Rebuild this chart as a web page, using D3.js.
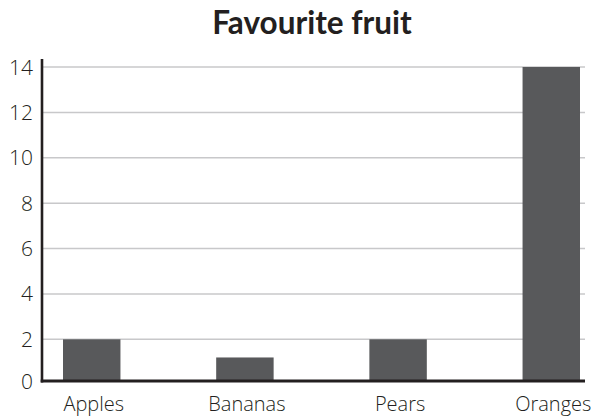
<!DOCTYPE html>
<html>
<head>
<meta charset="utf-8">
<script src="https://cdn.jsdelivr.net/npm/d3@7"></script>
<style>
  html, body { margin: 0; padding: 0; background: #fff; }
  svg { display: block; }
</style>
</head>
<body>
<svg id="chart" width="596" height="418"></svg>
<script>
const categories = ["Apples", "Bananas", "Pears", "Oranges"];
const values = [2, 1.2, 2, 14];
const yTicks = [0, 2, 4, 6, 8, 10, 12, 14];
const title = "Favourite fruit";

const W = 596, H = 418;
const svg = d3.select("#chart");
const axisX = 42, plotRight = 585, plotBottom = 381, axisTop = 59;
const labelFont = "'Open Sans', Lato, sans-serif";

const x = d3.scaleBand()
  .domain(categories)
  .range([63, 580])
  .paddingInner(0.625)
  .paddingOuter(0);

const y = d3.scaleLinear()
  .domain([0, 14])
  .range([384.7, 67]);

// title
svg.append("text")
  .attr("x", 312).attr("y", 34)
  .attr("text-anchor", "middle")
  .attr("font-family", "Lato, 'Open Sans', sans-serif")
  .attr("font-weight", 700)
  .attr("font-size", 31.5)
  .attr("fill", "#231f20")
  .text(title);

// gridlines
svg.append("g").selectAll("line")
  .data(yTicks.filter(d => d > 0))
  .join("line")
  .attr("x1", axisX).attr("x2", plotRight)
  .attr("y1", d => y(d)).attr("y2", d => y(d))
  .attr("stroke", "#c8c8ca")
  .attr("stroke-width", 1.5);

// bars
svg.append("g").selectAll("rect")
  .data(categories.map((c, i) => ({ c, v: values[i] })))
  .join("rect")
  .attr("x", d => x(d.c))
  .attr("width", x.bandwidth())
  .attr("y", d => y(d.v))
  .attr("height", d => plotBottom - y(d.v))
  .attr("fill", "#58595b");

// axes lines
svg.append("line")
  .attr("x1", axisX).attr("x2", axisX)
  .attr("y1", axisTop).attr("y2", plotBottom + 1.5)
  .attr("stroke", "#231f20").attr("stroke-width", 2.6);
svg.append("line")
  .attr("x1", axisX - 1.3).attr("x2", plotRight)
  .attr("y1", plotBottom).attr("y2", plotBottom)
  .attr("stroke", "#231f20").attr("stroke-width", 2.8);

// y tick labels
svg.append("g").selectAll("text")
  .data(yTicks)
  .join("text")
  .attr("x", 33)
  .attr("y", d => d === 0 ? plotBottom : y(d))
  .attr("dy", "0.36em")
  .attr("text-anchor", "end")
  .attr("font-family", labelFont)
  .attr("font-weight", 300)
  .attr("font-size", 21)
  .attr("fill", "#231f20")
  .text(d => d);

// x labels
svg.append("g").selectAll("text")
  .data(categories)
  .join("text")
  .attr("x", d => x(d) + x.bandwidth() / 2 + 2)
  .attr("y", 411)
  .attr("text-anchor", "middle")
  .attr("font-family", labelFont)
  .attr("font-weight", 300)
  .attr("font-size", 20)
  .attr("fill", "#231f20")
  .text(d => d);
</script>
</body>
</html>
